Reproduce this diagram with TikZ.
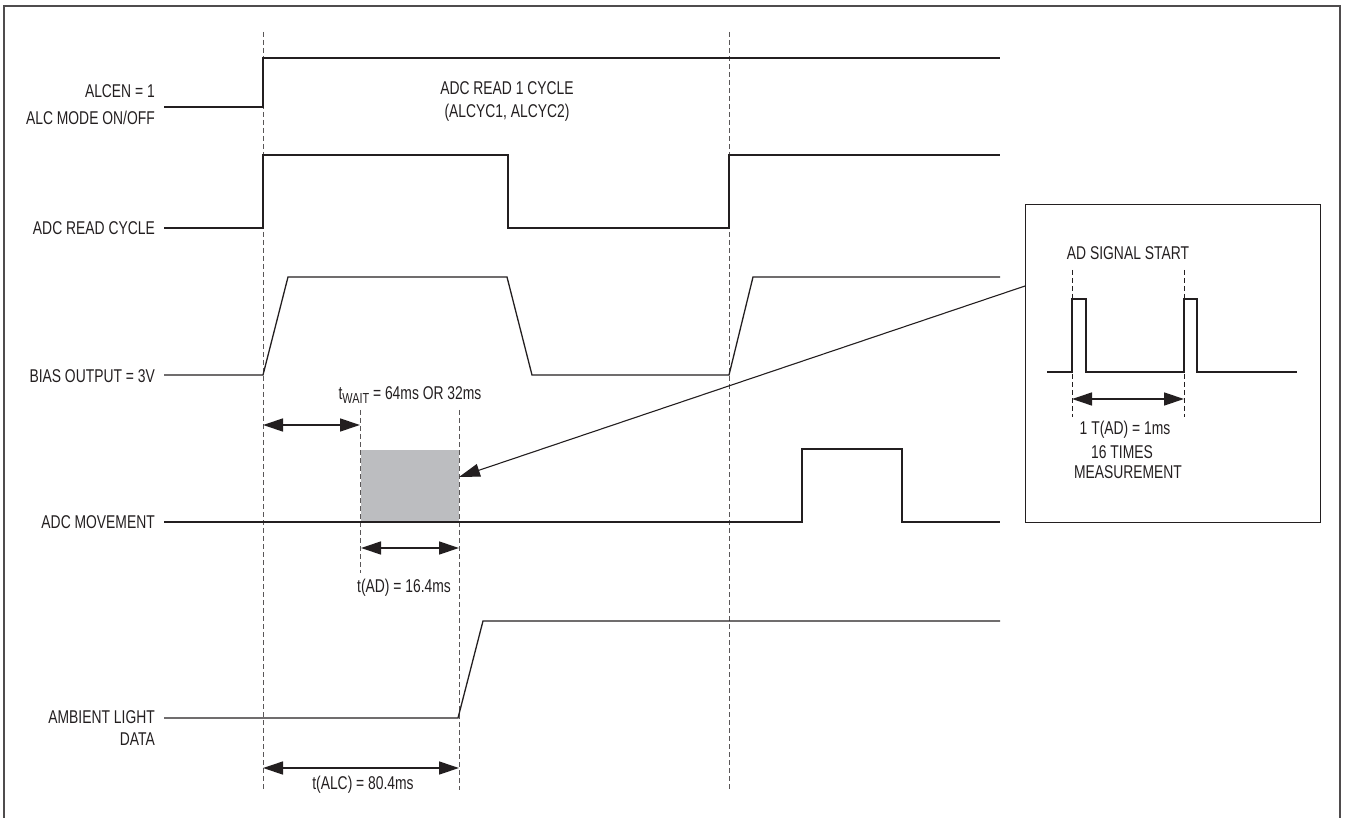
\documentclass[tikz,border=0pt]{standalone}
\usepackage{fontspec}
\setmainfont[FakeStretch=0.75]{Liberation Sans}
\usetikzlibrary{arrows.meta}
\definecolor{ink}{HTML}{231F20}
\definecolor{boxgray}{HTML}{BCBDC0}
\tikzset{
  sig/.style={draw=ink, line width=1.3pt, line join=miter},
  guide/.style={draw=ink!75, line width=0.9pt, dash pattern=on 5pt off 3pt},
  dim/.style={draw=ink, line width=1.3pt, {Triangle[length=20pt,width=13pt]}-{Triangle[length=20pt,width=13pt]}},
  pointer/.style={draw=ink, line width=1.1pt, -{Triangle[length=21pt,width=13pt]}},
  lbl/.style={text=ink, inner sep=0pt, font=\fontsize{18.5}{21}\selectfont},
  lblr/.style={lbl, anchor=east},
  framebox/.style={draw=ink!80, line width=2pt},
}
\begin{document}
\begin{tikzpicture}[x=1pt,y=-1pt]
\useasboundingbox (0,0) rectangle (1345,818);
% outer frame (open at bottom)
\draw[framebox] (4,818) -- (4,6) -- (1340,6) -- (1340,818);

% guide lines
\draw[guide] (263,32) -- (263,790);
\draw[guide] (729,32) -- (729,790);
\draw[guide] (360,410) -- (360,573);
\draw[guide] (459,410) -- (459,790);

% ADC movement grey block
\node[fill=boxgray, draw=none, minimum width=98pt, minimum height=72pt, inner sep=0pt, anchor=north west] (adc) at (361,450) {};

% signals
\draw[sig] (164,107) -- (263,107) -- (263,58) -- (1000,58);
\draw[sig] (164,228) -- (263,228) -- (263,155) -- (508,155) -- (508,228) -- (729,228) -- (729,155) -- (1000,155);
\draw[sig] (164,375) -- (263,375) -- (288,277) -- (507,277) -- (532,375) -- (729,375) -- (753,277) -- (1000,277);
\draw[sig] (164,522) -- (802,522) -- (802,449) -- (902,449) -- (902,522) -- (1000,522);
\draw[sig] (164,718) -- (458,718) -- (483,621) -- (1000,621);

% labels left
\node[lblr] (l1a) at (155,91) {ALCEN = 1};
\node[lblr] (l1b) at (155,118) {ALC MODE ON/OFF};
\node[lblr] (l2) at (155,228) {ADC READ CYCLE};
\node[lblr] (l3) at (155,376) {BIAS OUTPUT = 3V};
\node[lblr] (l4) at (155,522) {ADC MOVEMENT};
\node[lblr] (l5a) at (155,717) {AMBIENT LIGHT};
\node[lblr] (l5b) at (155,739) {DATA};

% cycle label
\node[lbl, align=center] (cyc) at (507,101) {ADC READ 1 CYCLE\\[2pt](ALCYC1, ALCYC2)};

% dimension arrows
\coordinate (tw1) at (263,425); \coordinate (tw2) at (360,425);
\draw[dim] (tw1) -- (tw2);
\node[lbl] (twlbl) at (410,395) {t\raisebox{-0.35ex}{\fontsize{14.5}{15}\selectfont WAIT} = 64ms OR 32ms};

\coordinate (ta1) at (361,548); \coordinate (ta2) at (459,548);
\draw[dim] (ta1) -- (ta2);
\node[lbl] (talbl) at (404,588) {t(AD) = 16.4ms};

\coordinate (tc1) at (263,768); \coordinate (tc2) at (459,768);
\draw[dim] (tc1) -- (tc2);
\node[lbl] (tclbl) at (363,785) {t(ALC) = 80.4ms};

% inset box
\node[draw=ink, line width=1.3pt, minimum width=295pt, minimum height=318pt, inner sep=0pt, anchor=north west] (inset) at (1025,204) {};
\node[lbl] (adstart) at (1128,253) {AD SIGNAL START};
\draw[guide, draw=ink, line width=0.8pt] (1072,270) -- (1072,417);
\draw[guide, draw=ink, line width=0.8pt] (1184,270) -- (1184,417);
\draw[sig] (1047,372) -- (1072,372) -- (1072,299) -- (1086,299) -- (1086,372) -- (1184,372) -- (1184,299) -- (1197,299) -- (1197,372) -- (1297,372);
\coordinate (ti1) at (1072,399); \coordinate (ti2) at (1184,399);
\draw[dim] (ti1) -- (ti2);
\node[lbl] (tad) at (1125,430) {1 T(AD) = 1ms};
\node[lbl] (times) at (1122,452) {16 TIMES};
\node[lbl] (meas) at (1128,472) {MEASUREMENT};

% pointer
\coordinate (pstart) at (inset.west |- 0,286);
\coordinate (pend) at (459,477);
\draw[pointer] (pstart) -- (pend);
\end{tikzpicture}
\end{document}
